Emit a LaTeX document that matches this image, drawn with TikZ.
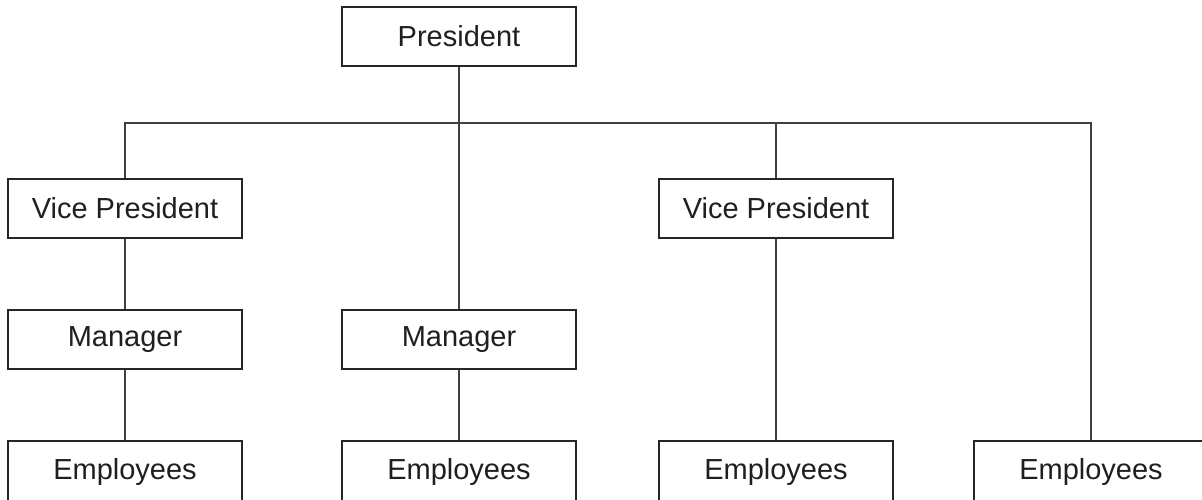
\documentclass[tikz,border=0pt]{standalone}
\usepackage{fontspec}
\setmainfont{Liberation Sans}
\begin{document}
\begin{tikzpicture}[x=1pt,y=-1pt,
  box/.style={draw=black!85,line width=1.3pt,minimum width=234pt,minimum height=59pt,inner sep=0pt,
    font=\fontsize{29}{34}\selectfont,text=black!88},
  lowbox/.style={box,minimum height=62pt},
  link/.style={draw=black!75,line width=1.2pt}]
\useasboundingbox (0,0) rectangle (1202,500);
\node[box] (pres) at (459,36.5) {President};
\node[box] (vp1) at (125,208.5) {Vice President};
\node[box] (vp2) at (776,208.5) {Vice President};
\node[box] (mgr1) at (125,339.5) {Manager};
\node[box] (mgr2) at (459,339.5) {Manager};
\node[lowbox] (emp1) at (125,472) {Employees};
\node[lowbox] (emp2) at (459,472) {Employees};
\node[lowbox] (emp3) at (776,472) {Employees};
\node[lowbox] (emp4) at (1091,472) {Employees};
\coordinate (bus) at (459,123);
\draw[link] (pres.south) -- (bus);
\draw[link] (vp1.north) |- (bus);
\draw[link] (bus) -| (emp4.north);
\draw[link] (bus) -| (vp2.north);
\draw[link] (bus) -- (mgr2.north);
\draw[link] (vp1) -- (mgr1);
\draw[link] (mgr1) -- (emp1);
\draw[link] (mgr2) -- (emp2);
\draw[link] (vp2) -- (emp3);
\end{tikzpicture}
\end{document}
